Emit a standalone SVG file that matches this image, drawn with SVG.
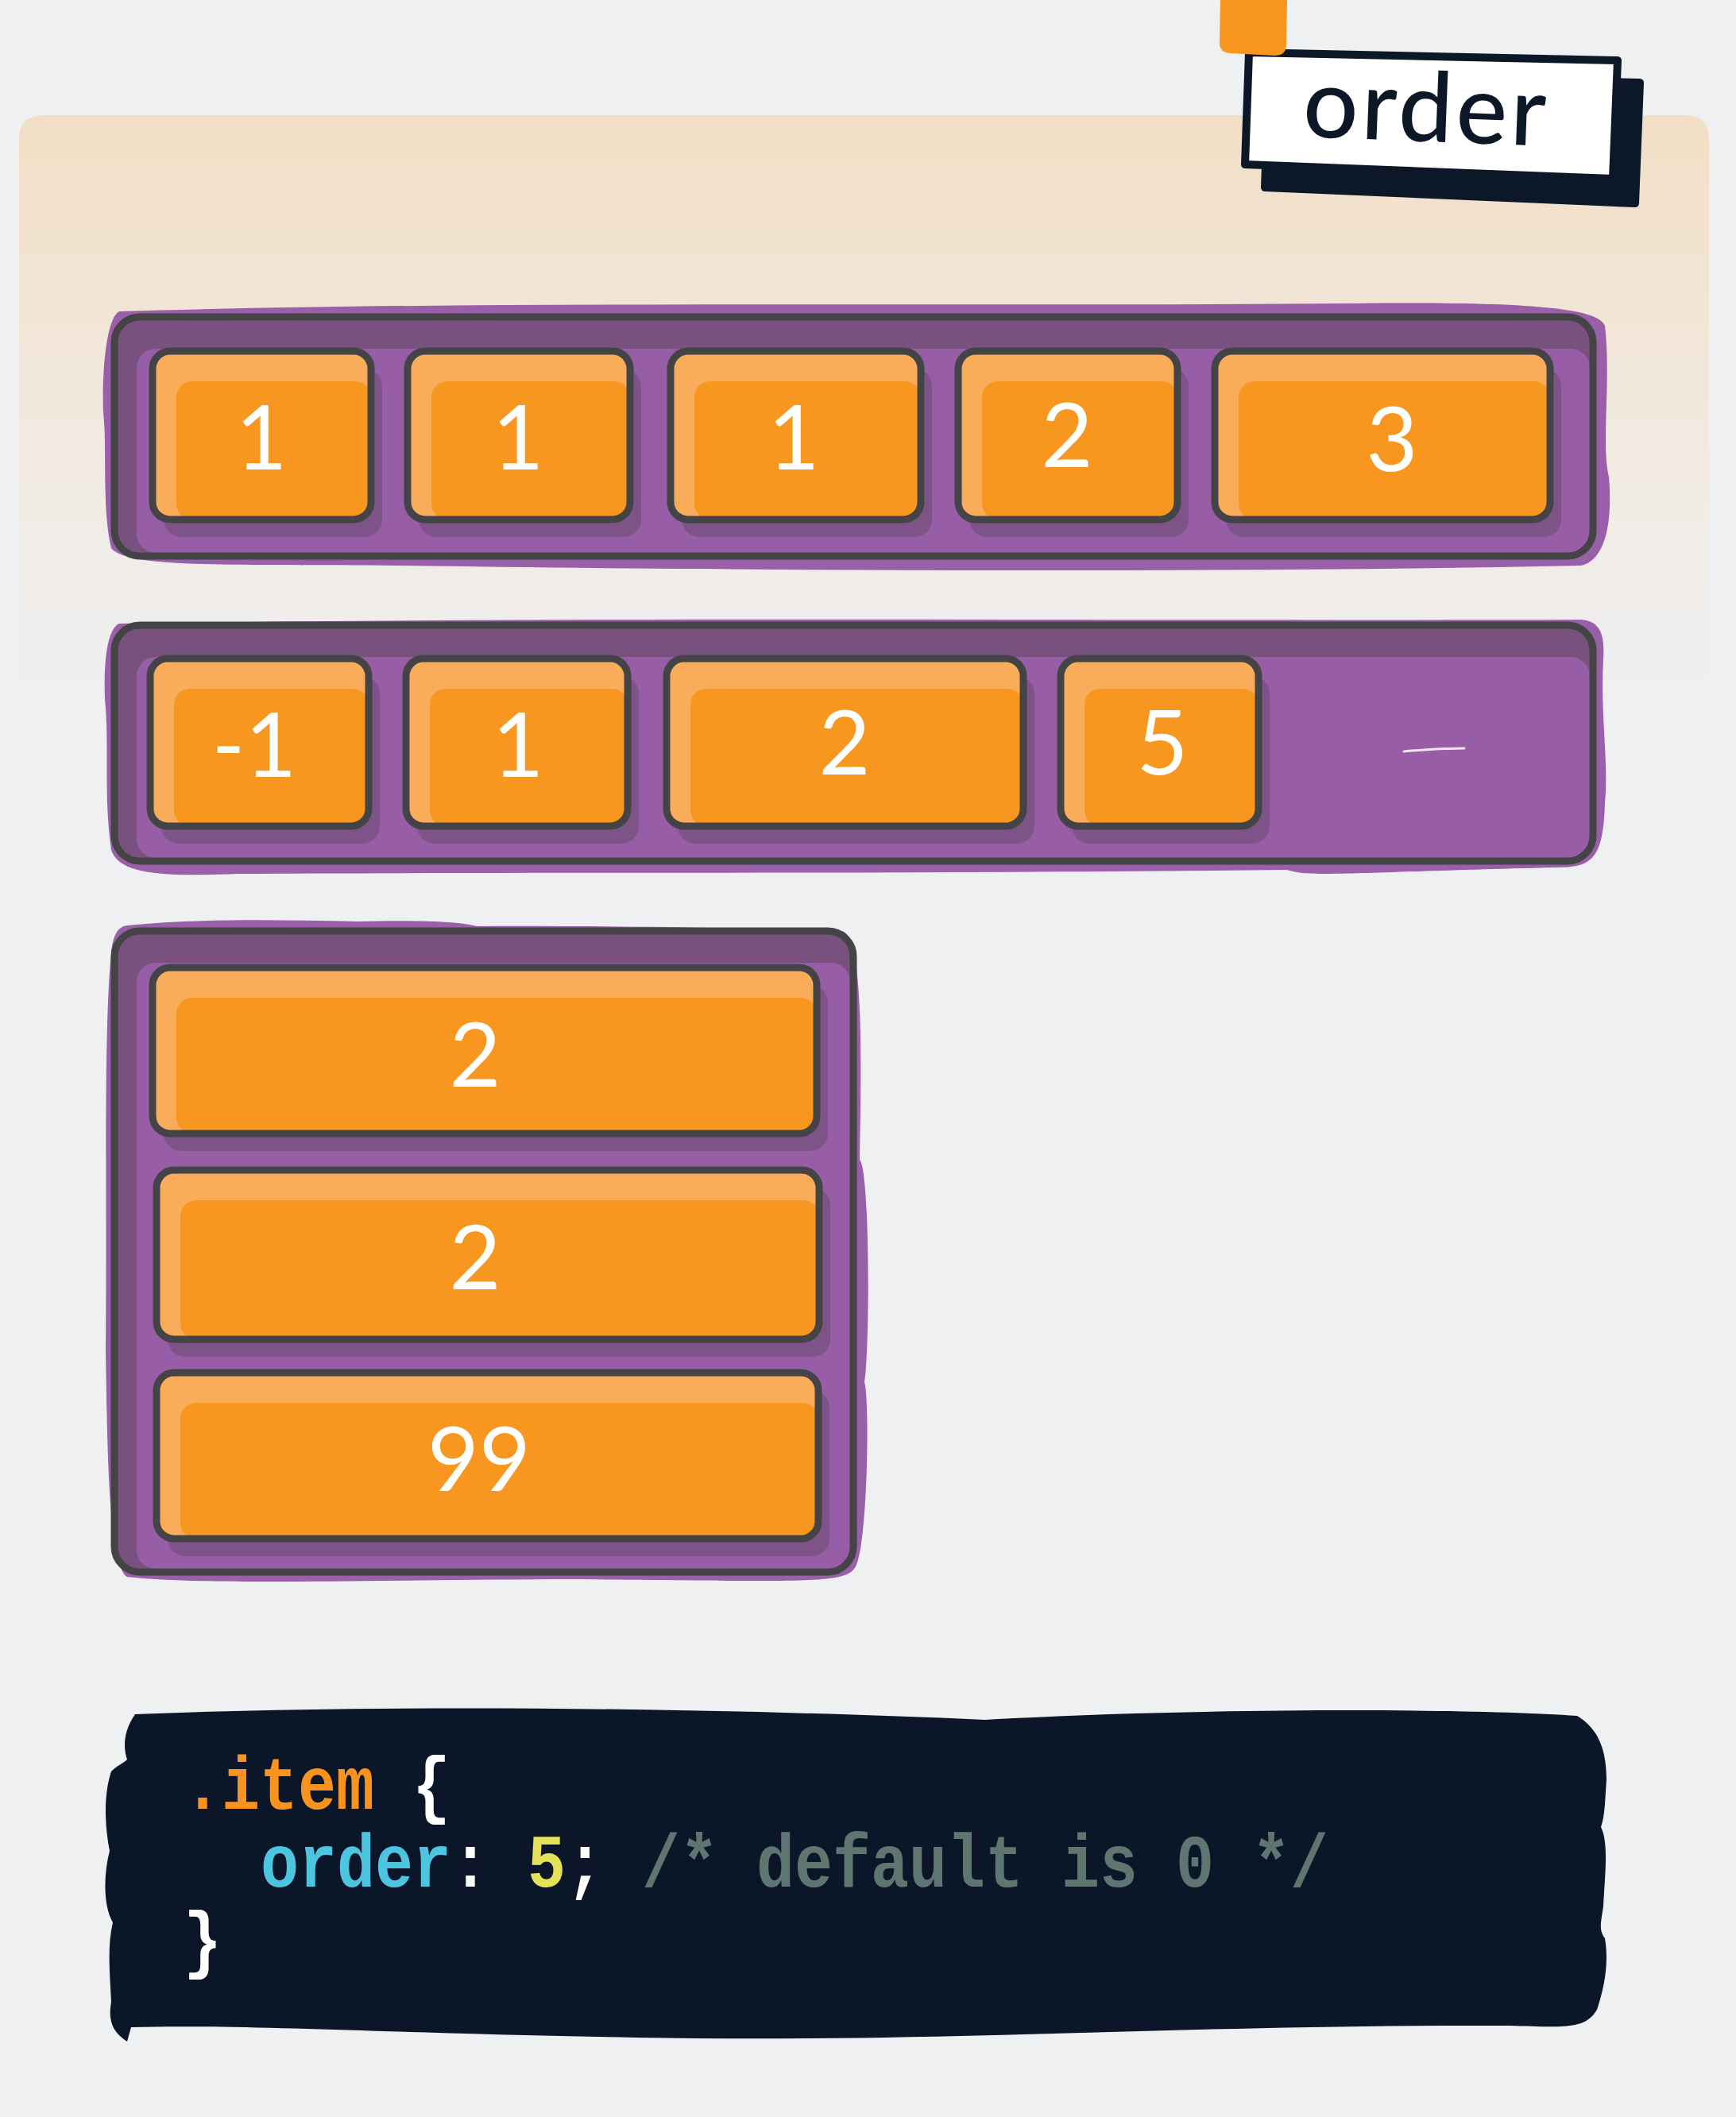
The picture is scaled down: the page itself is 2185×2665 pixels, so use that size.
<svg xmlns="http://www.w3.org/2000/svg" width="2185" height="2665" viewBox="0 0 2185 2665">
<defs>
<linearGradient id="panelGrad" x1="0" y1="0" x2="0" y2="1">
<stop offset="0" stop-color="#F2DEC5"/>
<stop offset="0.55" stop-color="#F1EAE1"/>
<stop offset="1" stop-color="#EFF0F2"/>
</linearGradient>
<style>
.blob{fill:#9A5FA9}
.cBand{fill:#78517F}
.cFill{fill:#975EA7}
.cBorder{fill:none;stroke:#444447;stroke-width:9}
.iShadow{fill:#7E5488}
.iHi{fill:#F9AD5B}
.iFill{fill:#F7971F}
.iBorder{fill:none;stroke:#444447;stroke-width:9}
.num{font-family:Lato,"Noto Sans",sans-serif;font-size:112px;fill:#FFFFFF;text-anchor:middle}
.code{font-family:"Liberation Mono",monospace;font-weight:bold;font-size:80px}
</style>
</defs>
<rect x="0" y="0" width="2185" height="2665" fill="#EFF0F2"/>
<path d="M24,175 Q24,145 54,145 L2121,145 Q2151,145 2151,175 L2151,900 L24,900 Z" fill="url(#panelGrad)"/>

<g id="label-order">
<path d="M1597,92 L2064,104 L2058,256 L1592,236 Z" fill="#0C1828" stroke="#0C1828" stroke-width="10" stroke-linejoin="round"/>
<path d="M1572,66 L2036,76 L2030,225 L1567,207 Z" fill="#FFFFFF" stroke="#0C1828" stroke-width="10" stroke-linejoin="round"/>
<path d="M1536,0 L1620,0 L1619,58 Q1618,70 1604,70 L1548,67 Q1535,66 1535,54 Z" fill="#F7971F"/>
<text x="1795" y="178" transform="rotate(2.2 1795 145)" font-family="Lato,'Noto Sans',sans-serif" font-size="122" font-weight="500" letter-spacing="4" fill="#0C1828" text-anchor="middle">order</text>
</g>

<g id="row1">
<path class="blob" d="M150,392 C600,378 1200,386 1700,382 C1900,380 2010,385 2020,410 C2028,480 2015,560 2025,600 C2030,660 2020,705 1990,712 C1500,722 900,718 500,712 C300,710 160,716 140,690 C128,640 135,560 130,520 C128,460 135,400 150,392 Z"/>
<rect class="cBand" x="146" y="401" width="1857" height="297" rx="30"/>
<rect class="cFill" x="172" y="439" width="1829" height="257" rx="24"/>
<rect class="cBorder" x="144" y="399" width="1861" height="301" rx="32"/>
<g id="r1-item1">
<rect class="iShadow" x="206" y="464" width="275" height="212" rx="22"/>
<rect class="iHi" x="192" y="442" width="275" height="212" rx="22"/>
<rect class="iFill" x="222" y="480" width="245" height="174" rx="20"/>
<rect class="iBorder" x="192" y="442" width="275" height="212" rx="22"/>
<text class="num" x="329" y="591">1</text>
</g>
<g id="r1-item2">
<rect class="iShadow" x="527" y="464" width="280" height="212" rx="22"/>
<rect class="iHi" x="513" y="442" width="280" height="212" rx="22"/>
<rect class="iFill" x="543" y="480" width="250" height="174" rx="20"/>
<rect class="iBorder" x="513" y="442" width="280" height="212" rx="22"/>
<text class="num" x="652" y="591">1</text>
</g>
<g id="r1-item3">
<rect class="iShadow" x="858" y="464" width="315" height="212" rx="22"/>
<rect class="iHi" x="844" y="442" width="315" height="212" rx="22"/>
<rect class="iFill" x="874" y="480" width="285" height="174" rx="20"/>
<rect class="iBorder" x="844" y="442" width="315" height="212" rx="22"/>
<text class="num" x="999" y="591">1</text>
</g>
<g id="r1-item4">
<rect class="iShadow" x="1220" y="464" width="276" height="212" rx="22"/>
<rect class="iHi" x="1206" y="442" width="276" height="212" rx="22"/>
<rect class="iFill" x="1236" y="480" width="246" height="174" rx="20"/>
<rect class="iBorder" x="1206" y="442" width="276" height="212" rx="22"/>
<text class="num" x="1343" y="588">2</text>
</g>
<g id="r1-item5">
<rect class="iShadow" x="1543" y="464" width="422" height="212" rx="22"/>
<rect class="iHi" x="1529" y="442" width="422" height="212" rx="22"/>
<rect class="iFill" x="1559" y="480" width="392" height="174" rx="20"/>
<rect class="iBorder" x="1529" y="442" width="422" height="212" rx="22"/>
<text class="num" x="1752" y="593">3</text>
</g>
</g>

<g id="row2">
<path class="blob" d="M150,785 C700,776 1400,782 1990,780 C2015,782 2020,800 2018,830 C2014,900 2025,960 2020,1010 C2018,1080 2005,1092 1960,1092 C1700,1098 1650,1105 1620,1095 C1200,1100 600,1098 300,1100 C200,1104 150,1100 140,1070 C130,1000 138,940 132,880 C130,820 138,790 150,785 Z"/>
<rect class="cBand" x="146" y="789" width="1857" height="293" rx="30"/>
<rect class="cFill" x="172" y="827" width="1829" height="253" rx="24"/>
<rect class="cBorder" x="144" y="787" width="1861" height="297" rx="32"/>
<path d="M1767,946 Q1805,942 1843,942" fill="none" stroke="#FFFFFF" stroke-width="3" stroke-linecap="round" opacity="0.85"/>
<g id="r2-item1">
<rect class="iShadow" x="203" y="851" width="275" height="211" rx="22"/>
<rect class="iHi" x="189" y="829" width="275" height="211" rx="22"/>
<rect class="iFill" x="219" y="867" width="245" height="173" rx="20"/>
<rect class="iBorder" x="189" y="829" width="275" height="211" rx="22"/>
<text class="num" x="320" y="978">-1</text>
</g>
<g id="r2-item2">
<rect class="iShadow" x="525" y="851" width="279" height="211" rx="22"/>
<rect class="iHi" x="511" y="829" width="279" height="211" rx="22"/>
<rect class="iFill" x="541" y="867" width="249" height="173" rx="20"/>
<rect class="iBorder" x="511" y="829" width="279" height="211" rx="22"/>
<text class="num" x="652" y="978">1</text>
</g>
<g id="r2-item3">
<rect class="iShadow" x="853" y="851" width="449" height="211" rx="22"/>
<rect class="iHi" x="839" y="829" width="449" height="211" rx="22"/>
<rect class="iFill" x="869" y="867" width="419" height="173" rx="20"/>
<rect class="iBorder" x="839" y="829" width="449" height="211" rx="22"/>
<text class="num" x="1063" y="975">2</text>
</g>
<g id="r2-item4">
<rect class="iShadow" x="1349" y="851" width="249" height="211" rx="22"/>
<rect class="iHi" x="1335" y="829" width="249" height="211" rx="22"/>
<rect class="iFill" x="1365" y="867" width="219" height="173" rx="20"/>
<rect class="iBorder" x="1335" y="829" width="249" height="211" rx="22"/>
<text class="num" x="1463" y="975">5</text>
</g>
</g>

<g id="row3">
<path class="blob" d="M160,1165 C250,1156 350,1158 450,1160 C520,1158 580,1160 600,1166 C800,1165 1000,1170 1060,1172 C1085,1180 1085,1300 1082,1460 C1095,1470 1095,1700 1088,1740 C1095,1760 1092,1960 1075,1975 C1060,1995 1000,1990 700,1988 C400,1990 250,1995 160,1985 C135,1970 135,1800 133,1700 C135,1500 130,1300 140,1200 C142,1175 150,1166 160,1165 Z"/>
<rect class="cBand" x="146" y="1174" width="926" height="803" rx="30"/>
<rect class="cFill" x="172" y="1212" width="898" height="763" rx="24"/>
<rect class="cBorder" x="144" y="1172" width="930" height="807" rx="32"/>
<g id="r3-item1">
<rect class="iShadow" x="206" y="1240" width="836" height="209" rx="22"/>
<rect class="iHi" x="192" y="1218" width="836" height="209" rx="22"/>
<rect class="iFill" x="222" y="1256" width="806" height="171" rx="20"/>
<rect class="iBorder" x="192" y="1218" width="836" height="209" rx="22"/>
<text class="num" x="598" y="1368">2</text>
</g>
<g id="r3-item2">
<rect class="iShadow" x="211" y="1495" width="834" height="213" rx="22"/>
<rect class="iHi" x="197" y="1473" width="834" height="213" rx="22"/>
<rect class="iFill" x="227" y="1511" width="804" height="175" rx="20"/>
<rect class="iBorder" x="197" y="1473" width="834" height="213" rx="22"/>
<text class="num" x="598" y="1623">2</text>
</g>
<g id="r3-item3">
<rect class="iShadow" x="211" y="1750" width="833" height="209" rx="22"/>
<rect class="iHi" x="197" y="1728" width="833" height="209" rx="22"/>
<rect class="iFill" x="227" y="1766" width="803" height="171" rx="20"/>
<rect class="iBorder" x="197" y="1728" width="833" height="209" rx="22"/>
<text class="num" x="603" y="1877">99</text>
</g>
</g>

<g id="code-block">
<path d="M170,2158 C500,2145 900,2150 1240,2165 C1500,2150 1850,2150 1985,2160 C2010,2175 2022,2200 2022,2240 C2020,2270 2020,2285 2015,2300 C2025,2320 2020,2360 2018,2400 C2015,2420 2012,2430 2020,2440 C2025,2470 2020,2500 2010,2530 C1995,2555 1970,2552 1900,2550 C1500,2548 1200,2572 800,2565 C500,2560 300,2548 165,2552 L160,2570 C145,2560 135,2548 140,2520 C138,2480 135,2450 142,2420 C130,2400 130,2360 138,2330 C132,2300 130,2260 140,2230 C148,2222 155,2220 160,2215 C155,2200 155,2180 170,2158 Z" fill="#0B1628"/>
<text class="code" transform="translate(231 2277) scale(1 1.18)" x="0" y="0" xml:space="preserve"><tspan fill="#F7931E">.item</tspan><tspan fill="#FFFFFF"> {</tspan></text>
<text class="code" transform="translate(328 2375) scale(1 1.18)" x="0" y="0" xml:space="preserve"><tspan fill="#4EC5E0">order</tspan><tspan fill="#FFFFFF">: </tspan><tspan fill="#E6E15A">5</tspan><tspan fill="#FFFFFF">; </tspan><tspan fill="#5F7570">/* default is 0 */</tspan></text>
<text class="code" transform="translate(231 2472) scale(1 1.18)" x="0" y="0" fill="#FFFFFF">}</text>
</g>
</svg>
